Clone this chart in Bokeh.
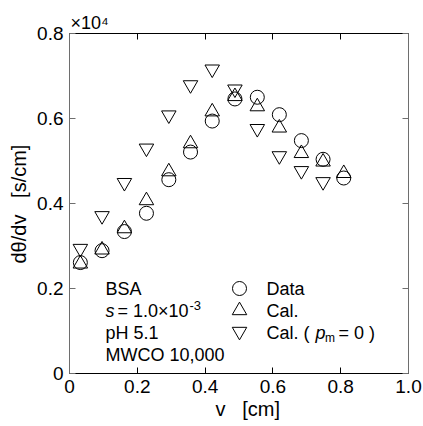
from bokeh.plotting import figure
from bokeh.models import Range1d, LinearAxis, FixedTicker, Label, Title
from bokeh.embed import file_html
from bokeh.resources import INLINE

# ---- data (y in units of x10^4 s/cm) ----
v_cm = [0.032, 0.096, 0.162, 0.227, 0.293, 0.357, 0.421, 0.488, 0.554, 0.619, 0.684, 0.748, 0.809]
data_vals = [0.261, 0.289, 0.334, 0.377, 0.456, 0.521, 0.594, 0.646, 0.650, 0.609, 0.548, 0.504, 0.460]
cal_vals = [0.258, 0.291, 0.341, 0.407, 0.475, 0.541, 0.616, 0.652, 0.628, 0.578, 0.518, 0.498, 0.471]
cal0_v = [0.032, 0.096, 0.162, 0.227, 0.293, 0.357, 0.421, 0.488, 0.554, 0.619, 0.684, 0.748]
cal0_vals = [0.294, 0.371, 0.449, 0.530, 0.608, 0.679, 0.716, 0.669, 0.576, 0.512, 0.477, 0.451]

x_ticks = [0, 0.2, 0.4, 0.6, 0.8, 1.0]
x_tick_labels = ["0", "0.2", "0.4", "0.6", "0.8", "1.0"]
y_ticks = [0, 0.2, 0.4, 0.6, 0.8]
y_tick_labels = ["0", "0.2", "0.4", "0.6", "0.8"]

NB = "\u00a0"
x_label = "v" + NB + NB + " [cm]"
y_label = "d\u03b8/dv" + NB + NB + " [s/cm]"
scale_label = "\u00d710\u2074"

FONT = "Liberation Sans"
W, H = 423, 426
L, R, T, B = 69, 408, 33, 373  # frame in pixels

p = figure(width=W, height=H, output_backend="svg", toolbar_location=None,
           x_range=Range1d(0, 1), y_range=Range1d(0, 0.8),
           x_axis_type=None, y_axis_type=None,
           title=scale_label, title_location="above",
           min_border_left=L, min_border_right=W - R,
           min_border_top=T, min_border_bottom=H - B)
p.outline_line_color = None
p.background_fill_color = "white"
p.border_fill_color = "white"
p.xgrid.visible = False
p.ygrid.visible = False

p.title.align = "left"
p.title.offset = 1
p.title.standoff = 2
p.title.text_font = FONT
p.title.text_font_size = "18px"
p.title.text_font_style = "normal"
p.title.text_color = "black"


def style_axis(ax, ticks, labels, color, show_labels):
    ax.ticker = FixedTicker(ticks=ticks)
    ax.major_tick_in = 6
    ax.major_tick_out = 0
    ax.minor_tick_line_color = None
    ax.axis_line_color = color
    ax.major_tick_line_color = color
    ax.axis_line_width = 1
    ax.major_label_text_font = FONT
    if show_labels:
        ax.major_label_overrides = {t: l for t, l in zip(ticks, labels)}
        ax.major_label_text_color = "black"
        ax.major_label_text_font_size = "19px"
        ax.major_label_standoff = 6
    else:
        ax.major_label_text_color = None
        ax.major_label_text_font_size = "0px"
        ax.major_label_standoff = 0


bx = LinearAxis(); style_axis(bx, x_ticks, x_tick_labels, "black", True)
tx = LinearAxis(); style_axis(tx, x_ticks, x_tick_labels, "black", False)
ly = LinearAxis(); style_axis(ly, y_ticks, y_tick_labels, "#6e6e6e", True)
ry = LinearAxis(); style_axis(ry, y_ticks, y_tick_labels, "#6e6e6e", False)
p.add_layout(bx, "below")
p.add_layout(tx, "above")
p.add_layout(ly, "left")
p.add_layout(ry, "right")

# axis titles as side-panel titles (positioned by pixel offset)
xt = Title(text=x_label, align="left", offset=146, standoff=0,
           text_font=FONT, text_font_size="20px", text_font_style="normal",
           text_color="black")
p.add_layout(xt, "below")
yt = Title(text=y_label, align="left", offset=110, standoff=9,
           text_font=FONT, text_font_size="20px", text_font_style="normal",
           text_color="black")
p.add_layout(yt, "left")

# ---- markers ----
p.scatter(v_cm, data_vals, marker="circle", size=14, fill_color=None,
          line_color="black", line_width=1)
p.scatter(v_cm, cal_vals, marker="triangle", size=14.5, fill_color=None,
          line_color="black", line_width=1)
p.scatter(cal0_v, cal0_vals, marker="inverted_triangle", size=14.5, fill_color=None,
          line_color="black", line_width=1)


# ---- text helpers (pixel layout -> data coords) ----
def dx(px):
    return (px - L) / (R - L) * 1.0


def dy(py):
    return (B - py) / (B - T) * 0.8


def lab(text, px, py, size=18, italic=False):
    p.add_layout(Label(x=dx(px), y=dy(py), text=text, text_font=FONT,
                       text_font_size=f"{size}px",
                       text_font_style="italic" if italic else "normal",
                       text_align="left", text_baseline="middle",
                       text_color="black"))


# annotation block
lab("BSA", 105, 288)
lab("s", 105, 310, italic=True)
lab("= 1.0\u00d710", 117, 310)
lab("-3", 189, 305, size=13)
lab("pH 5.1", 105, 332)
lab("MWCO 10,000", 105, 354)

# legend
leg_x = dx(239)
p.scatter([leg_x], [dy(288)], marker="circle", size=14, fill_color=None, line_color="black")
p.scatter([leg_x], [dy(310)], marker="triangle", size=14.5, fill_color=None, line_color="black")
p.scatter([leg_x], [dy(331)], marker="inverted_triangle", size=14.5, fill_color=None, line_color="black")
lab("Data", 266, 288)
lab("Cal.", 266, 310)
lab("Cal. (", 266, 332)
lab("p", 315, 332, italic=True)
lab("m", 324.5, 337, size=12)
lab("= 0 )", 338, 332)

open("out.html", "w").write(file_html(p, INLINE))
